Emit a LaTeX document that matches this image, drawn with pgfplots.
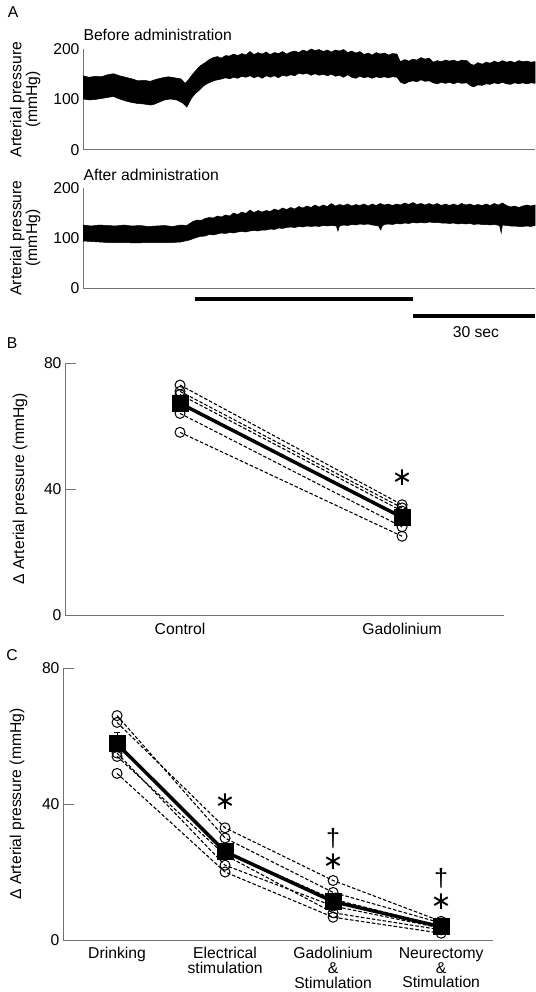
\documentclass[border=0pt]{standalone}
\usepackage{fontspec}
\setmainfont{Liberation Sans}
\newfontfamily\dejavu{DejaVu Sans}
\usepackage{pgfplots}
\pgfplotsset{compat=1.18}

\definecolor{axgray}{RGB}{115,115,115}

\pgfplotsset{
  panel/.style={
    scale only axis,
    axis lines=left,
    axis line style={draw=axgray, line width=1pt, -},
    every outer x axis line/.append style={-},
    every outer y axis line/.append style={-},
    tick style={draw=axgray, line width=1pt},
    tick label style={font=\fontsize{15.7}{15.7}\selectfont},
    label style={font=\fontsize{15.7}{15.7}\selectfont},
    /pgf/number format/assume math mode=true,
    clip=false,
  },
  rat/.style={black, line width=1.1pt, dash pattern=on 3.5pt off 2pt,
    mark=o, mark size=5pt, mark options={solid, fill=white, line width=1pt}},
  avg/.style={black, line width=3.5pt, mark=square*, mark size=8pt,
    mark options={solid, line width=0pt}},
}

\newcommand{\sigast}{{\dejavu\fontsize{25}{25}\selectfont ∗}}
\newcommand{\sigdag}{{\fontsize{25}{25}\selectfont †}}

\begin{document}
\begin{tikzpicture}
\useasboundingbox (0,0) rectangle (535pt,-992pt);

\node[font=\fontsize{15.7}{15.7}\selectfont] at (13pt,-12pt) {A};
\node[font=\fontsize{15.7}{15.7}\selectfont] at (12pt,-343pt) {B};
\node[font=\fontsize{15.7}{15.7}\selectfont] at (12pt,-655pt) {C};
\node[font=\fontsize{15.7}{15.7}\selectfont, anchor=west] at (80pt,-35pt) {Before administration};
\node[font=\fontsize{15.7}{15.7}\selectfont, anchor=west] at (80pt,-175pt) {After administration};

% A, before
\begin{axis}[panel, at={(83pt,-150pt)}, anchor=south west,
  width=452pt, height=101pt,
  xmin=0, xmax=111, ymin=0, ymax=200,
  ytick={0,100,200}, xtick=\empty, major tick length=0pt,
  ylabel={Arterial pressure\\(mmHg)},
  ylabel style={align=center, at={(axis description cs:-0.128,0.5)}, anchor=center},
]
\addplot[fill=black, draw=black, line width=0.5pt] coordinates {
 (0,147) (1.5,144) (3,146) (4.5,145) (6,149) (7.5,151) (9,147) (10.5,144) (12,141)
 (13.5,137) (15,138) (16.5,136) (18,140) (19.5,143) (21,145) (22.5,143) (24,141)
 (25.1,132) (25.9,139) (27,151) (28,160) (29,168) (30,173) (31,179) (32,183) (33,185)
 (34,182) (35,187) (36,186) (37,190) (38,187) (39,191) (40,188) (41,195) (42,189)
 (43,193) (44,190) (45,194) (46,189) (47,193) (48,191) (49,195) (50,190) (51,194)
 (52,196) (53,193) (54,198) (55,195) (56,200) (57,197) (58,199) (59,195) (60,198)
 (61,194) (62,198) (63,196) (64,199) (65,193) (66,196) (67,192) (68,195) (69,189)
 (70,192) (71,188) (72,193) (73,190) (74,192) (75,188) (76,191) (77.1,190) (77.9,175)
 (79,179) (80,176) (81,180) (82,178) (83,183) (84,180) (85,182) (86,174) (87,177)
 (88,175) (89,178) (90,176) (91,178) (92,175) (93,178) (94.3,177) (95.2,170) (96,168)
 (97,173) (98,170) (99,174) (100,172) (101,176) (102,173) (103,177) (104,174)
 (105,176) (106,173) (107,177) (108,175) (109,176) (110,174) (111,175)
 (111,132) (110,133) (109,131) (108,133) (107,131) (106,133) (105,130) (104,131)
 (103,134) (102,131) (101,133) (100,130) (99,131) (98,128) (97,129) (96,125)
 (95.2,127) (94.3,133) (93,132) (92,134) (91,131) (90,134) (89,132) (88,134) (87,131)
 (86,133) (85,137) (84,136) (83,139) (82,135) (81,137) (80,135) (79,131) (78,134)
 (77.1,144) (76,145) (75,143) (74,145) (73,143) (72,145) (71,142) (70,145) (69,143)
 (68,146) (67,142) (66,144) (65,149) (64,144) (63,148) (62,146) (61,150) (60,147)
 (59,150) (58,148) (57,151) (56,148) (55,152) (54,150) (53,152) (52,147) (51,149)
 (50,146) (49,148) (48,143) (47,147) (46,144) (45,147) (44,142) (43,146) (42,143)
 (41,147) (40,144) (39,146) (38,142) (37,144) (36,141) (35,143) (33.7,140) (32.5,138)
 (31.5,135) (30.4,131) (29.5,126) (28.5,118) (27.5,111) (26.7,103) (25.5,85) (24.5,93)
 (23,99) (21.5,101) (20,99) (18.5,94) (17.3,90) (16.5,89) (15,91) (13.5,92) (12,94)
 (10.5,97) (9,101) (7.5,106) (6,104) (4.5,102) (3,100) (1.5,99) (0,101)
};
\end{axis}

% A, after
\begin{axis}[panel, at={(83pt,-288pt)}, anchor=south west,
  width=452pt, height=100pt,
  xmin=0, xmax=111, ymin=0, ymax=200,
  ytick={0,100,200}, xtick=\empty, major tick length=0pt,
  ylabel={Arterial pressure\\(mmHg)},
  ylabel style={align=center, at={(axis description cs:-0.128,0.5)}, anchor=center},
]
\addplot[fill=black, draw=black, line width=0.5pt] coordinates {
 (0,126) (2,124) (4,126) (6,125) (8,124) (10,126) (12,124) (14,125) (16,123) (18,124)
 (20,125) (22,123) (24,126) (25.5,125) (26.2,129) (27,133) (28,136) (29,135) (30,139)
 (31,141) (32,140) (33,144) (34,142) (35,146) (36,144) (37,150) (38,147) (39,152)
 (40,149) (41,156) (42,151) (43,155) (44,152) (45,155) (46,153) (47,158) (48,155)
 (49,160) (50,157) (51,161) (52,158) (53,163) (54,160) (55,164) (56,161) (57,166)
 (58,162) (59,166) (60,163) (61,169) (62,164) (63,167) (64,165) (65,168) (66,164)
 (67,167) (68,165) (69,168) (70,164) (71,168) (72,165) (73,169) (74,166) (75,168)
 (76,165) (77,168) (78,166) (79,170) (80,167) (81,171) (82,167) (83,169) (84,166)
 (85,169) (86,166) (87,169) (88,165) (89,168) (90,165) (91,168) (92,165) (93,169)
 (94,166) (95,168) (96,165) (97,167) (98,165) (99,168) (100,165) (101,169) (102,166)
 (103,170) (104,165) (105,162) (106,164) (107,161) (108,164) (109,166) (110,164)
 (111,166)
 (111,125) (110,123) (109,124) (108,123) (107,123) (106,124) (105,124) (104,125)
 (103,126) (102.7,110) (102.3,125) (101,127) (100,126) (99,127) (98,127) (97,128)
 (96,127) (95,129) (94,128) (93,129) (92,128) (91,130) (90,129) (89,130) (88,130)
 (87,131) (86,131) (85,132) (84,130) (83,131) (82,130) (81,131) (80,129) (79,130)
 (78,128) (77,129) (76,127) (75,128) (74,127) (73.5,124) (73.1,116) (72.6,124)
 (72,125) (71,126) (70,128) (69,127) (68,128) (67,126) (66,127) (65,125) (64,126)
 (63,124) (62.6,114) (62.2,124) (61,125) (60,124) (59,125) (58,123) (57,124) (56,123)
 (55,124) (54,122) (53,123) (52,121) (51,122) (50,121) (49,119) (48,120) (47,117)
 (46,118) (45,116) (44,116) (43,114) (42,115) (41,114) (40,112) (39,113) (38,112)
 (37,110) (36,111) (35,109) (34,110) (33,108) (32,106) (31,107) (30,104) (28.7,103)
 (27.5,100) (26.2,96) (24,92) (22,91) (19,91) (16,91) (13,90) (10,91) (8,91) (6,91)
 (4,92) (2,93) (0,94)
};
% stimulation and scale bars
\addplot[black, line width=4.5pt] coordinates {(27.5,-22) (81.1,-22)};
\addplot[black, line width=4.5pt] coordinates {(81.1,-56) (111,-56)};
\node[font=\fontsize{15.7}{15.7}\selectfont] at (axis cs:96.5,-88) {30 sec};
\end{axis}

% B
\begin{axis}[panel, at={(65pt,-615pt)}, anchor=south west,
  width=439pt, height=252pt,
  xmin=-0.518, xmax=1.459, ymin=0, ymax=80,
  ytick={0,40,80}, xtick={0,1}, xticklabels={Control,Gadolinium},
  tick align=inside, major tick length=11pt,
  xtick style={draw=none},
  xticklabel style={yshift=-5pt},
  ylabel={Δ Arterial pressure (mmHg)},
  ylabel style={at={(axis description cs:-0.1025,0.5)}, anchor=center},
]
\addplot[rat] coordinates {(0,73) (1,35)};
\addplot[rat] coordinates {(0,71) (1,34)};
\addplot[rat] coordinates {(0,70) (1,33)};
\addplot[rat] coordinates {(0,67) (1,31)};
\addplot[rat] coordinates {(0,64) (1,28)};
\addplot[rat] coordinates {(0,58) (1,25)};
\addplot[avg] coordinates {(0,67.2) (1,31)};
\node at (axis cs:1,43.5) {\sigast};
\end{axis}

% C
\begin{axis}[panel, at={(63pt,-940pt)}, anchor=south west,
  width=430pt, height=272pt,
  xmin=-0.5, xmax=3.48, ymin=0, ymax=80,
  ytick={0,40,80}, xtick={0,1,2,3},
  xticklabels={Drinking,{Electrical\\stimulation},{Gadolinium\\\&\\Stimulation},{Neurectomy\\\&\\Stimulation}},
  tick align=inside, major tick length=11pt,
  xtick style={draw=none},
  xticklabel style={align=center, font=\fontsize{15.7}{14.7}\selectfont, yshift=-4pt},
  ylabel={Δ Arterial pressure (mmHg)},
  ylabel style={at={(axis description cs:-0.107,0.5)}, anchor=center},
]
\addplot[rat] coordinates {(0,66) (1,30) (2,14) (3,5)};
\addplot[rat] coordinates {(0,64) (1,33) (2,17.5) (3,5.5)};
\addplot[rat] coordinates {(0,58) (1,26) (2,12) (3,4)};
\addplot[rat] coordinates {(0,55) (1,22) (2,10) (3,3.5)};
\addplot[rat] coordinates {(0,54) (1,25) (2,8) (3,3)};
\addplot[rat] coordinates {(0,49) (1,20) (2,6.7) (3,2)};
\addplot[black, line width=1pt, mark=none, error bars/.cd, y dir=plus, y explicit,
  error mark options={rotate=90, mark size=3pt, line width=1pt}]
  coordinates {(0,57.7) +- (0,3.2) (1,26) +- (0,1.9) (2,11.3) +- (0,1.7) (3,3.9) +- (0,0.6)};
\addplot[avg] coordinates {(0,57.7) (1,26) (2,11.3) (3,3.9)};
\node at (axis cs:1,40.8) {\sigast};
\node at (axis cs:2,29.9) {\sigdag};
\node at (axis cs:2,23.1) {\sigast};
\node at (axis cs:3,18.2) {\sigdag};
\node at (axis cs:3,11.3) {\sigast};
\end{axis}
\end{tikzpicture}
\end{document}
